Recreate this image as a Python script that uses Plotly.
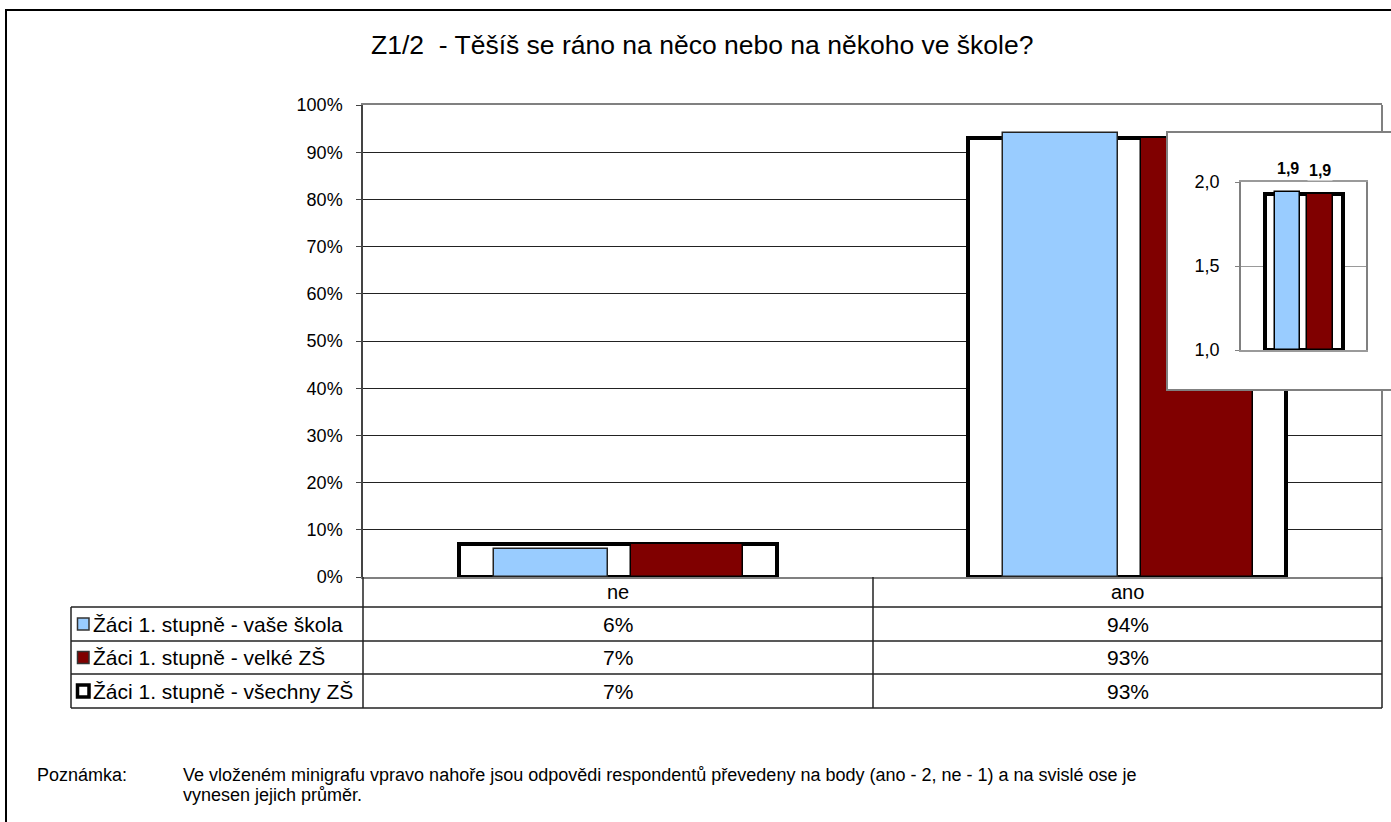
import plotly.graph_objects as go

# data
categories = ["ne", "ano"]
series_names = [
    "Žáci 1. stupně - vaše škola",
    "Žáci 1. stupně - velké ZŠ",
    "Žáci 1. stupně - všechny ZŠ",
]
vase_skola = [6, 94]
velke_zs = [7, 93]
vsechny_zs = [7, 93]
y_ticks = [0, 10, 20, 30, 40, 50, 60, 70, 80, 90, 100]

# minigraph: average of points (ano = 2, ne = 1)
mini_vase_skola = [1.94]
mini_velke_zs = [1.93]
mini_vsechny_zs = [1.93]
mini_ticks = [1.0, 1.5, 2.0]

title = "Z1/2\u00a0 - Těšíš se ráno na něco nebo na někoho ve škole?"
note_label = "Poznámka:"
note_lines = [
    "Ve vloženém minigrafu vpravo nahoře jsou odpovědi respondentů převedeny na body (ano - 2, ne - 1) a na svislé ose je",
    "vynesen jejich průměr.",
]

BLUE = "#99CCFF"
RED = "#800000"
FONT = "Arial, Liberation Sans, sans-serif"

W, H = 1391, 822
L, T, B = 363, 105, 245


def px(x):
    return (x - L) / (W - L)


def py(y):
    return (H - B - y) / (H - T - B)


def label(text, x, y, size, xanchor="center", **kw):
    return dict(text=text, x=px(x), y=py(y), xref="paper", yref="paper",
                showarrow=False, xanchor=xanchor, yanchor="middle",
                font=dict(size=size, color="black"), **kw)


fig = go.Figure()

# main chart
fig.add_trace(go.Bar(x=categories, y=vsechny_zs, name=series_names[2],
                     marker=dict(color="white", line=dict(color="black", width=4)),
                     offset=-0.312, width=0.624))
fig.add_trace(go.Bar(x=categories, y=vase_skola, name=series_names[0],
                     marker=dict(color=BLUE, line=dict(color="#222222", width=1.5)),
                     offset=-0.243, width=0.224))
fig.add_trace(go.Bar(x=categories, y=velke_zs, name=series_names[1],
                     marker=dict(color=RED, line=dict(color="black", width=1.5)),
                     offset=0.026, width=0.22))

# white box behind the minigraph
fig.add_trace(go.Scatter(x=[None], y=[None], xaxis="x2", yaxis="y2",
                         showlegend=False, hoverinfo="skip"))

# minigraph
fig.add_trace(go.Bar(x=[0], y=[v - 1 for v in mini_vsechny_zs], base=1,
                     xaxis="x3", yaxis="y3",
                     marker=dict(color="white", line=dict(color="black", width=4)),
                     offset=-0.31, width=0.624))
fig.add_trace(go.Bar(x=[0], y=[v - 1 for v in mini_vase_skola], base=1,
                     xaxis="x3", yaxis="y3",
                     marker=dict(color=BLUE, line=dict(color="black", width=1.5)),
                     offset=-0.228, width=0.2))
fig.add_trace(go.Bar(x=[0], y=[v - 1 for v in mini_velke_zs], base=1,
                     xaxis="x3", yaxis="y3",
                     marker=dict(color=RED, line=dict(color="black", width=1.5)),
                     offset=0.028, width=0.208))

annotations = []
shapes = []

# title
annotations.append(label(title, 702, 45, 26.5))

# minigraph data labels
for val, off, wid in [(mini_vase_skola[0], -0.228, 0.2), (mini_velke_zs[0], 0.028, 0.208)]:
    annotations.append(dict(text="<b>" + f"{val:.1f}".replace(".", ",") + "</b>",
                            x=off + wid / 2, y=val, xref="x3", yref="y3",
                            showarrow=False, xanchor="center", yanchor="bottom", yshift=13,
                            bgcolor="white", font=dict(size=16, color="black")))

# data table
tl, tsplit, tmid, tr = 71, 363, 873, 1382
row_y = [577, 607, 641, 674, 708]
line_style = dict(color="#222222", width=1.5)
for y in row_y[1:]:
    shapes.append(dict(type="line", xref="paper", yref="paper",
                       x0=px(tl), x1=px(tr), y0=py(y), y1=py(y), line=line_style))
shapes.append(dict(type="line", xref="paper", yref="paper",
                   x0=px(tl), x1=px(tl), y0=py(row_y[1]), y1=py(row_y[-1]), line=line_style))
for x in [tsplit, tmid, tr]:
    shapes.append(dict(type="line", xref="paper", yref="paper",
                       x0=px(x), x1=px(x), y0=py(row_y[0]), y1=py(row_y[-1]), line=line_style))

col_centers = [(tsplit + tmid) / 2, (tmid + tr) / 2]
for cat, cx in zip(categories, col_centers):
    annotations.append(label(cat, cx, (row_y[0] + row_y[1]) / 2, 20))

key_fill = [BLUE, RED, "white"]
key_line = [dict(color="#333333", width=1.5), dict(color="#333333", width=1.5),
            dict(color="black", width=3.5)]
for i, (name, vals) in enumerate(zip(series_names, [vase_skola, velke_zs, vsechny_zs])):
    yc = (row_y[i + 1] + row_y[i + 2]) / 2
    shapes.append(dict(type="rect", xref="paper", yref="paper",
                       x0=px(77.5), x1=px(89), y0=py(yc + 6), y1=py(yc - 6),
                       fillcolor=key_fill[i], line=key_line[i]))
    annotations.append(label(name, 91, yc, 21, xanchor="left"))
    for v, cx in zip(vals, col_centers):
        annotations.append(label(f"{v}%", cx, yc, 21))

# right border of the main plot area
shapes.append(dict(type="line", xref="paper", yref="paper", layer="below",
                   x0=px(1382), x1=px(1382), y0=0, y1=1,
                   line=dict(color="#808080", width=2)))

# outer frame
shapes.append(dict(type="rect", xref="paper", yref="paper",
                   x0=px(6), x1=px(1420), y0=py(850), y1=py(10),
                   line=dict(color="black", width=2)))

# note
annotations.append(label(note_label, 35, 775, 18, xanchor="left"))
for i, line in enumerate(note_lines):
    annotations.append(label(line, 181, 775 + 20 * i, 18, xanchor="left"))

fig.update_layout(
    width=W, height=H, autosize=False,
    margin=dict(l=L, r=0, t=T, b=B, pad=0),
    paper_bgcolor="white", plot_bgcolor="white",
    font=dict(family=FONT, color="black"),
    barmode="overlay", showlegend=False, bargap=0,
    separators=",.",
    xaxis=dict(domain=[0, px(1382)], type="category", range=[-0.5, 1.5],
               showticklabels=False, ticks="", showgrid=False, zeroline=False,
               showline=True, mirror=True, linecolor="#808080", linewidth=2),
    yaxis=dict(range=[0, 100], tickvals=y_ticks, ticktext=[f"{v}%" for v in y_ticks],
               showgrid=True, gridcolor="#222222", gridwidth=1, zeroline=False,
               showline=True, linecolor="#444444", linewidth=1.5,
               ticks="outside", ticklen=5, tickcolor="#444444",
               ticklabelstandoff=10, tickfont=dict(size=18)),
    xaxis2=dict(domain=[px(1168), 1], anchor="y2", range=[0, 1],
                showticklabels=False, ticks="", showgrid=False, zeroline=False,
                showline=True, mirror=True, linecolor="#808080", linewidth=2),
    yaxis2=dict(domain=[py(389), py(133)], anchor="x2", range=[0, 1],
                showticklabels=False, ticks="", showgrid=False, zeroline=False,
                showline=True, linecolor="#808080", linewidth=2),
    xaxis3=dict(domain=[px(1241), px(1366)], anchor="y3", range=[-0.5, 0.5],
                showticklabels=False, ticks="", showgrid=False, zeroline=False,
                showline=True, mirror=True, linecolor="#9a9a9a", linewidth=1.5),
    yaxis3=dict(domain=[py(350), py(182)], anchor="x3", range=[1, 2],
                tickvals=mini_ticks, tickformat=".1f",
                showgrid=True, gridcolor="#9a9a9a", gridwidth=1, zeroline=False,
                showline=True, mirror=True, linecolor="#808080", linewidth=1.5,
                ticks="outside", ticklen=4, tickcolor="#808080",
                ticklabelstandoff=12, tickfont=dict(size=18)),
    annotations=annotations,
    shapes=shapes,
)

# the page body has a default 8px margin; drop it so the figure sits at the window corner
fig.write_html("out.html", config={"displayModeBar": False},
               post_script="document.body.style.margin = '0';")
